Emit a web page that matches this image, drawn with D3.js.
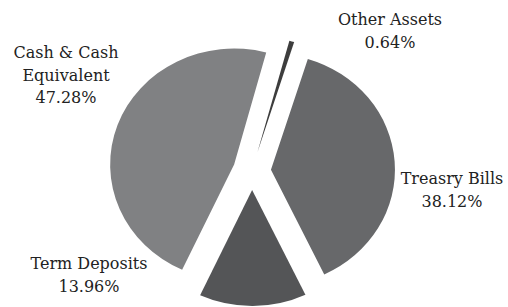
<!DOCTYPE html>
<meta charset="utf-8">
<script src="https://d3js.org/d3.v7.min.js"></script>
<style>
body { margin: 0; background: #fff; }
text { font-family: "DejaVu Serif", "Liberation Serif", serif; font-size: 16px; fill: #222; }
</style>
<div id="pie"></div>
<script>
// slice data, clockwise from the top
var labels = ["Other Assets", "Treasry Bills", "Term Deposits", "Cash & Cash Equivalent"];
var values = [0.64, 38.12, 13.96, 47.28];
var colors = ["#3d3d3d", "#67686a", "#545557", "#808183"];

// label text lines
var labelLines = [
  ["Other Assets", "0.64%"],
  ["Treasry Bills", "38.12%"],
  ["Term Deposits", "13.96%"],
  ["Cash & Cash", "Equivalent", "47.28%"]
];

var width = 508, height = 307;
var cx = 252, cy = 171, r = 120, explode = 19;
var sx = 124 / 120, sy = 116 / 120;   // slightly flattened pie

var svg = d3.select("#pie").append("svg")
  .attr("width", width)
  .attr("height", height);

var pie = d3.pie().sort(null)
  .startAngle(15 * Math.PI / 180)
  .endAngle(15 * Math.PI / 180 + 2 * Math.PI);

var arc = d3.arc().innerRadius(0).outerRadius(r);

var slices = pie(values);

svg.selectAll("path")
  .data(slices)
  .enter()
  .append("path")
    .attr("d", arc)
    .attr("fill", function(d, i) { return colors[i]; })
    .attr("transform", function(d) {
      var a = (d.startAngle + d.endAngle) / 2;
      var x = cx + explode * Math.sin(a), y = cy - explode * Math.cos(a);
      return "translate(" + x + "," + y + ") scale(" + sx + "," + sy + ")";
    });

// label anchor points (centre x, first baseline)
var labelPos = [[390, 25], [452, 184], [89, 269], [66, 58]];

labelLines.forEach(function(lines, i) {
  var t = svg.append("text")
    .attr("text-anchor", "middle")
    .attr("x", labelPos[i][0])
    .attr("y", labelPos[i][1]);
  lines.forEach(function(l, k) {
    t.append("tspan")
      .attr("x", labelPos[i][0])
      .attr("dy", k === 0 ? 0 : 22.5)
      .text(l);
  });
});
</script>
